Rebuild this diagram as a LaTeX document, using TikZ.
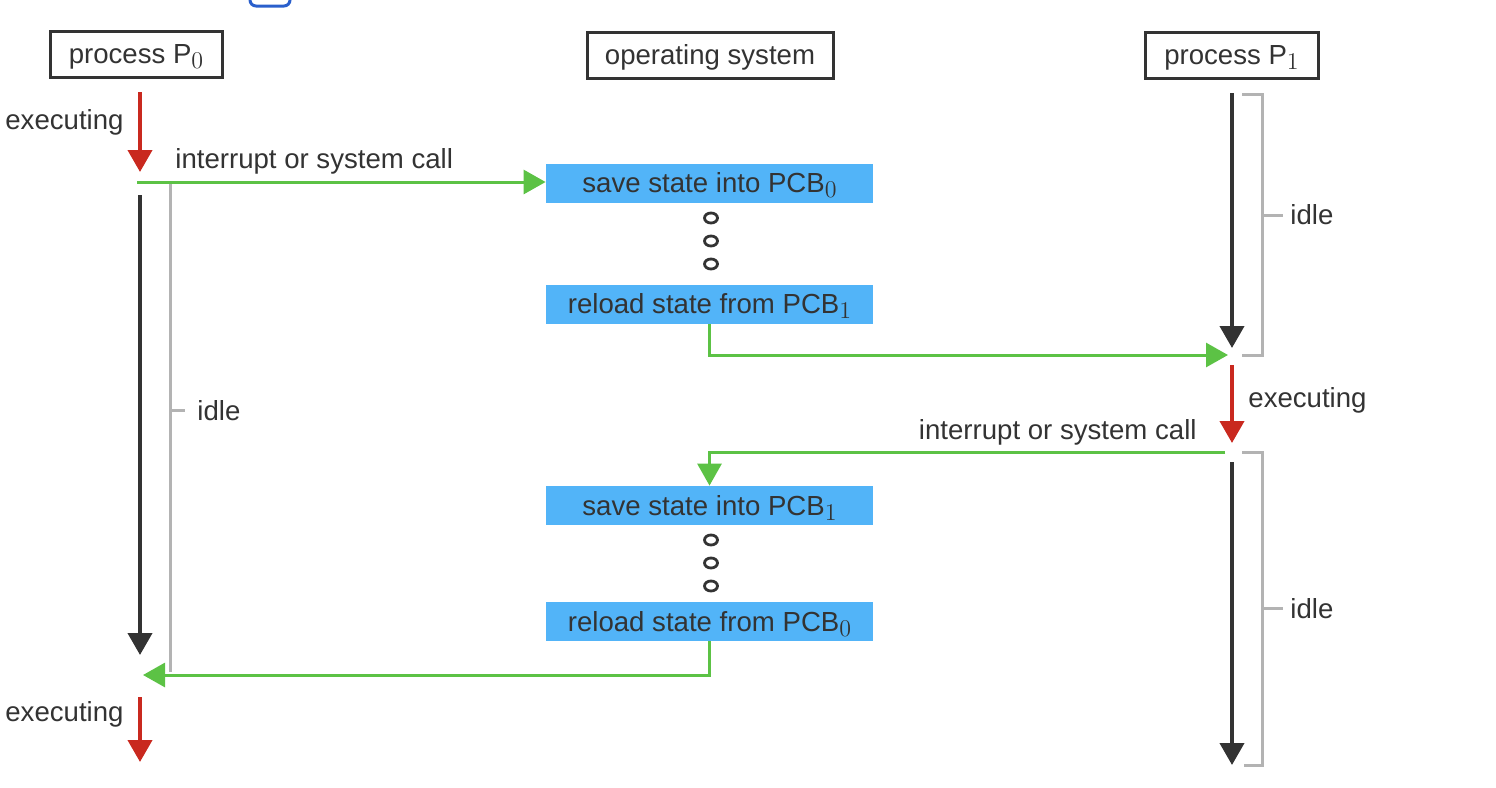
\documentclass[tikz,border=0pt]{standalone}
\usepackage{fontspec}
\setmainfont{Liberation Sans}
\usetikzlibrary{arrows.meta}
\definecolor{dk}{HTML}{333333}
\definecolor{rd}{HTML}{C9291F}
\definecolor{gn}{HTML}{5CC245}
\definecolor{bl}{HTML}{52B4F8}
\definecolor{gy}{HTML}{B3B3B3}
\definecolor{lnk}{HTML}{2A5FCC}
\newcommand{\pcbsub}[1]{\raisebox{-2.5pt}{\fontsize{12}{13}\selectfont$#1$}}
\tikzset{
  every node/.style={font=\fontsize{13.8}{16}\selectfont, text=dk},
  hdr/.style={draw=dk, line width=1.5pt, minimum height=23pt, inner sep=0pt, text height=9.9pt, text depth=0pt},
  pcb/.style={fill=bl, minimum width=163.5pt, minimum height=19.5pt, inner sep=0pt, text height=9.9pt, text depth=0pt},
  lbl/.style={inner sep=0pt},
  tipp/.style={-{Triangle[length=11pt,width=12pt]}},
  exec/.style={tipp, draw=rd, line width=2pt},
  run/.style={tipp, draw=dk, line width=2pt},
  sig/.style={-{Triangle[length=11pt,width=12pt]}, draw=gn, line width=1.5pt},
  brk/.style={draw=gy, line width=1.5pt},
  waitdot/.style={draw=dk, line width=1.4pt}
}
\begin{document}
\begin{tikzpicture}[x=0.5pt,y=-0.5pt]
\useasboundingbox (0,0) rectangle (1496,788);
\clip (0,0) rectangle (1496,788);

% partial link box at top
\draw[lnk, line width=1.5pt, rounded corners=3pt] (250,-20) rectangle (290,6);

% headers
\node[hdr, minimum width=86pt] (p0) at (136,54) {process P\pcbsub{0}};
\node[hdr, minimum width=123pt] (os) at (710,55) {operating system};
\node[hdr, minimum width=86.5pt] (p1) at (1231.5,55) {process P\pcbsub{1}};

% OS boxes
\node[pcb] (s0) at (709.5,183) {save state into PCB\pcbsub{0}};
\node[pcb] (r1) at (709.5,304) {reload state from PCB\pcbsub{1}};
\node[pcb] (s1) at (709.5,505.5) {save state into PCB\pcbsub{1}};
\node[pcb] (r0) at (709.5,621.5) {reload state from PCB\pcbsub{0}};

% waiting dots
\foreach \yy in {218,241,264,540,563,586}
  \draw[waitdot] (711,\yy) ellipse [x radius=6.5, y radius=5];

% coordinates
\coordinate (l0) at (140,92);
\coordinate (l1) at (140,172);
\coordinate (l2) at (137,182);
\coordinate (l3) at (140,195);
\coordinate (l4) at (140,655);
\coordinate (l5) at (143,675);
\coordinate (l6) at (140,697);
\coordinate (l7) at (140,762);
\coordinate (q0) at (1232,93);
\coordinate (q1) at (1232,348);
\coordinate (q2) at (1228,355);
\coordinate (q3) at (1232,365);
\coordinate (q4) at (1232,443);
\coordinate (q5) at (1225,452);
\coordinate (q6) at (1232,462);
\coordinate (q7) at (1232,765);

% process P0 timeline
\draw[exec] (l0) -- (l1);
\draw[run] (l3) -- (l4);
\draw[exec] (l6) -- (l7);
\draw[brk] (170,182) -- (170,672);
\draw[brk] (170,410) -- (185,410);
\node[lbl, anchor=west] (idle0) at (197,411) {idle};
\node[lbl, anchor=west] (ex0) at (5,122) {executing};
\node[lbl, anchor=west] (ex2) at (5,714) {executing};
\node[lbl, anchor=west] (int0) at (175,161) {interrupt or system call};

% process P1 timeline
\draw[run] (q0) -- (q1);
\draw[exec] (q3) -- (q4);
\draw[run] (q6) -- (q7);
\draw[brk] (1242,94) -- (1262,94) -- (1262,355) -- (1242,355);
\draw[brk] (1262,215) -- (1283,215);
\draw[brk] (1242,452) -- (1262,452) -- (1262,765) -- (1244,765);
\draw[brk] (1262,608) -- (1283,608);
\node[lbl, anchor=west] (idle1) at (1290,215) {idle};
\node[lbl, anchor=west] (idle2) at (1290,609) {idle};
\node[lbl, anchor=west] (ex1) at (1248,400) {executing};
\node[lbl, anchor=east] (int1) at (1197,432) {interrupt or system call};

% switches
\draw[sig] (l2) -- (l2 -| s0.west);
\draw[sig] (r1.south) |- (q2);
\draw[sig] (q5) -| (s1.north);
\draw[sig] (r0.south) |- (l5);
\end{tikzpicture}
\end{document}
